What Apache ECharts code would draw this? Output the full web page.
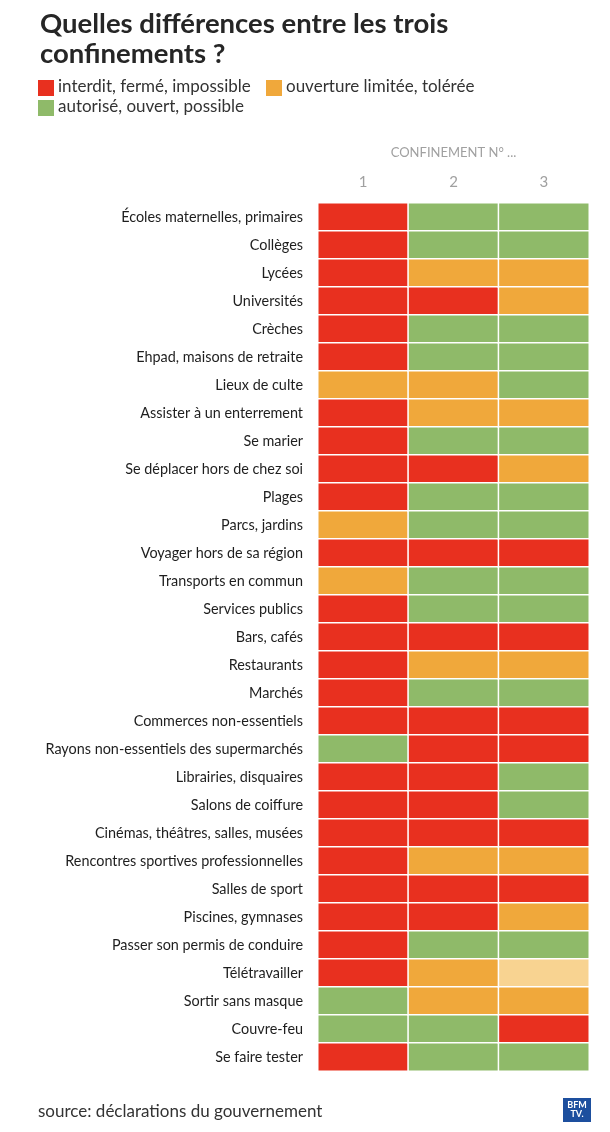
<!DOCTYPE html>
<html>
<head>
<meta charset="utf-8">
<script src="https://cdn.jsdelivr.net/npm/echarts@6/dist/echarts.min.js"></script>
<style>html,body{margin:0;padding:0;background:#fff;}#c{width:610px;height:1132px;}</style>
</head>
<body>
<div id="c"></div>
<script>
// 0 = interdit, 1 = ouverture limitée, 2 = autorisé, 3 = limitée (nuance claire)
const categories = [
  "Écoles maternelles, primaires","Collèges","Lycées","Universités","Crèches",
  "Ehpad, maisons de retraite","Lieux de culte","Assister à un enterrement","Se marier",
  "Se déplacer hors de chez soi","Plages","Parcs, jardins","Voyager hors de sa région",
  "Transports en commun","Services publics","Bars, cafés","Restaurants","Marchés",
  "Commerces non-essentiels","Rayons non-essentiels des supermarchés","Librairies, disquaires",
  "Salons de coiffure","Cinémas, théâtres, salles, musées","Rencontres sportives professionnelles",
  "Salles de sport","Piscines, gymnases","Passer son permis de conduire","Télétravailler",
  "Sortir sans masque","Couvre-feu","Se faire tester"
];
const confinements = ["1","2","3"];
const confinement1 = [0,0,0,0,0,0,1,0,0,0,0,1,0,1,0,0,0,0,0,2,0,0,0,0,0,0,0,0,2,2,0];
const confinement2 = [2,2,1,0,2,2,1,1,2,0,2,2,0,2,2,0,1,2,0,0,0,0,0,1,0,0,2,1,1,2,2];
const confinement3 = [2,2,1,1,2,2,2,1,2,1,2,2,0,2,2,0,1,2,0,0,2,2,0,1,0,1,2,3,1,0,2];
const legendLabels = ["interdit, fermé, impossible","ouverture limitée, tolérée","autorisé, ouvert, possible"];

const colors = {0:"#e8301f",1:"#f0a83b",2:"#8fba69",3:"#f8d391"};
const columns = [confinement1, confinement2, confinement3];
const data = [];
columns.forEach((col, x) => col.forEach((v, y) => data.push([x, y, v])));

const chart = echarts.init(document.getElementById('c'), null, {renderer:'canvas'});
const FONT = 'Lato, "Open Sans", sans-serif';
chart.setOption({
  animation: false,
  textStyle: {fontFamily: FONT},
  title: {
    text: "Quelles différences entre les trois\nconfinements ?",
    left: 35, top: 4,
    textStyle: {fontSize: 27.5, fontWeight: 'bold', color: '#262626', lineHeight: 30, fontFamily: FONT}
  },
  grid: {left: 318, top: 203, width: 271, height: 868},
  xAxis: {
    type: 'category', data: confinements, position: 'top',
    name: 'CONFINEMENT N° ...', nameLocation: 'middle', nameGap: 44,
    nameTextStyle: {color: '#a0a0a0', fontSize: 13},
    axisLine: {show: false}, axisTick: {show: false}, splitLine: {show: false},
    axisLabel: {color: '#a0a0a0', fontSize: 15, margin: 13}
  },
  yAxis: {
    type: 'category', data: categories, inverse: true,
    axisLine: {show: false}, axisTick: {show: false}, splitLine: {show: false},
    axisLabel: {color: '#1e1e1e', fontSize: 14.4, margin: 15}
  },
  visualMap: {
    type: 'piecewise', show: false, dimension: 2,
    pieces: [
      {value: 0, color: colors[0]}, {value: 1, color: colors[1]},
      {value: 2, color: colors[2]}, {value: 3, color: colors[3]}
    ]
  },
  series: [{
    type: 'heatmap', data: data,
    itemStyle: {borderColor: '#fff', borderWidth: 1.5},
    emphasis: {disabled: true}
  }],
  graphic: [
    {type:'rect', left: 38, top: 80, shape:{width:16,height:16}, style:{fill: colors[0]}},
    {type:'text', left: 58, top: 78, style:{text: legendLabels[0], fill:'#333', font: '17px ' + FONT}},
    {type:'rect', left: 266, top: 80, shape:{width:16,height:16}, style:{fill: colors[1]}},
    {type:'text', left: 286, top: 78, style:{text: legendLabels[1], fill:'#333', font: '17px ' + FONT}},
    {type:'rect', left: 38, top: 100, shape:{width:16,height:16}, style:{fill: colors[2]}},
    {type:'text', left: 58, top: 98, style:{text: legendLabels[2], fill:'#333', font: '17px ' + FONT}},
    {type:'text', left: 38, top: 1103, style:{text: 'source: déclarations du gouvernement', fill:'#333', font: '17px ' + FONT}},
    {type:'rect', left: 563, top: 1098, shape:{width:28,height:24}, style:{fill:'#1d4f9e'}},
    {type:'text', x: 577, y: 1110, style:{text:'BFM\nTV.', fill:'#fff', font:'bold 9px ' + FONT, align:'center', verticalAlign:'middle', lineHeight: 9}}
  ]
});
</script>
</body>
</html>
